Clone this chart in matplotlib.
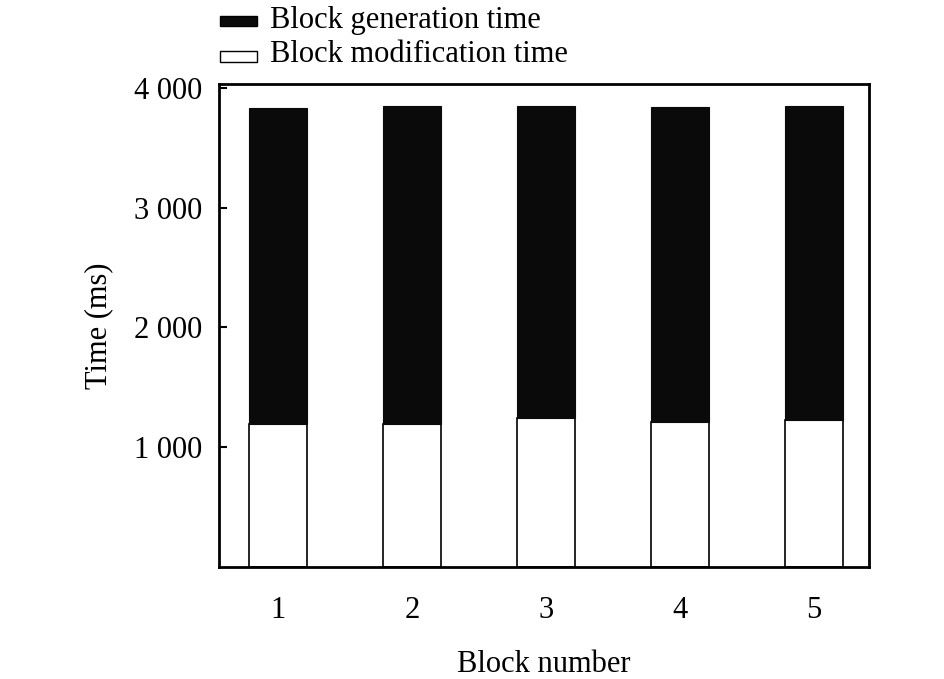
import matplotlib
matplotlib.use("Agg")
import matplotlib.pyplot as plt
from matplotlib.patches import Rectangle
from matplotlib.ticker import FuncFormatter

plt.rcParams['font.family'] = ['Liberation Serif', 'DejaVu Serif']

blocks = ['1', '2', '3', '4', '5']
modification_time = [1194, 1194, 1244, 1214, 1225]
total_time = [3833, 3850, 3850, 3844, 3852]
generation_time = [t - m for t, m in zip(total_time, modification_time)]
y_ticks = [1000, 2000, 3000, 4000]
legend_labels = ['Block generation time', 'Block modification time']

W, H = 945, 679
fig = plt.figure(figsize=(W/100, H/100), dpi=100)
ax = fig.add_axes([219/W, 1-567/H, (869-219)/W, (567-84)/H])

x = list(range(1, len(blocks)+1))
w = 0.43
ax.bar(x, modification_time, width=w, color='white', edgecolor='black', linewidth=1.2)
ax.bar(x, generation_time, width=w, bottom=modification_time, color='#0a0a0a', edgecolor='#0a0a0a', linewidth=0.8)

ax.set_xlim(0.56, 5.41)
ax.set_ylim(0, 4033)
ax.set_xticks(x)
ax.set_xticklabels(blocks)
ax.set_yticks(y_ticks)
ax.yaxis.set_major_formatter(FuncFormatter(lambda v, p: f"{int(v):,}".replace(',', ' ')))
ax.tick_params(axis='y', direction='in', length=6, width=1.5, labelsize=22, pad=12)
ax.tick_params(axis='x', length=0, labelsize=22, pad=21)
for s in ax.spines.values():
    s.set_linewidth(2)

ax.set_xlabel('Block number', fontsize=22, labelpad=18)
ax.set_ylabel('Time (ms)', fontsize=22, labelpad=15)

# legend drawn manually in figure pixel coordinates
rows = [(16, 26, 28, '#0a0a0a'), (51, 62, 62, 'white')]
for (top, bot, base, col), lab in zip(rows, legend_labels):
    fig.patches.append(Rectangle((220/W, 1-bot/H), 37/W, (bot-top)/H, transform=fig.transFigure,
                                 facecolor=col, edgecolor='black', linewidth=1.0))
    fig.text(270/W, 1-base/H, lab, fontsize=22, va='baseline', ha='left')

fig.savefig('out.png', dpi=100)
